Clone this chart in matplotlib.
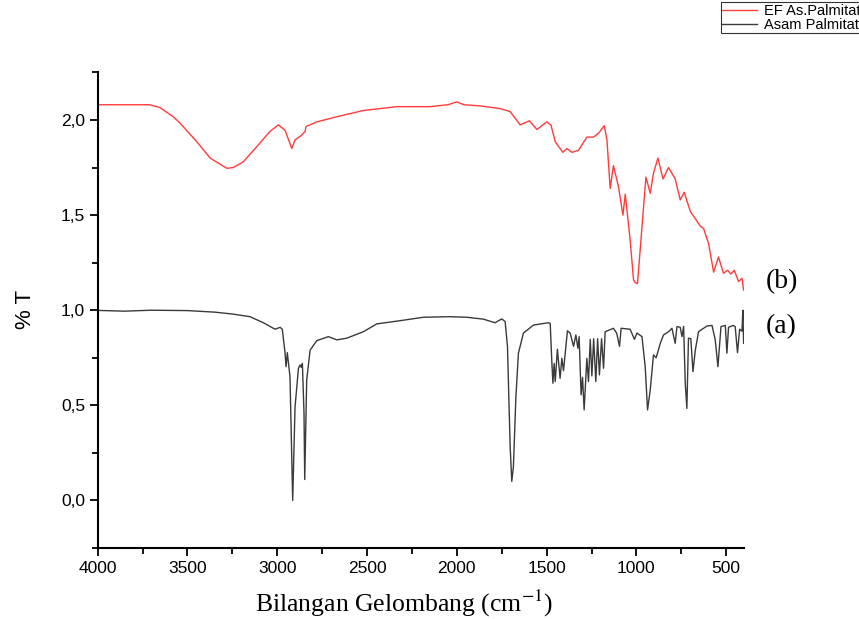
import matplotlib
matplotlib.use('Agg')
import matplotlib.pyplot as plt
from matplotlib.ticker import MultipleLocator, FuncFormatter

OUTPUT_FILE = "out.png"

# EF As.Palmitat (b) - wavenumber (cm-1) and %T
ef_wn = [4000, 3820, 3709, 3653, 3579, 3541, 3448, 3374, 3281, 3245, 3189, 3114,
         3040, 2994, 2957, 2919, 2901, 2864, 2845, 2840, 2780, 2668, 2520, 2334,
         2149, 2050, 2000, 1960, 1870, 1759, 1703, 1647, 1596, 1554, 1499, 1476,
         1452, 1410, 1387, 1359, 1323, 1276, 1239, 1211, 1179, 1164, 1146, 1128,
         1100, 1075, 1062, 1035, 1016, 1007, 994, 979, 947, 923, 905, 880, 852,
         821, 784, 756, 734, 700, 645, 626, 598, 570, 543, 515, 492, 474, 455,
         431, 412, 403]
ef_t = [2.08, 2.08, 2.08, 2.065, 2.017, 1.983, 1.886, 1.80, 1.746, 1.75, 1.78, 1.86,
        1.94, 1.974, 1.947, 1.85, 1.895, 1.92, 1.94, 1.965, 1.99, 2.017, 2.05, 2.07,
        2.07, 2.08, 2.095, 2.08, 2.074, 2.06, 2.044, 1.974, 1.996, 1.95, 1.99, 1.974,
        1.886, 1.83, 1.85, 1.83, 1.84, 1.91, 1.91, 1.93, 1.97, 1.895, 1.64, 1.76,
        1.65, 1.50, 1.61, 1.37, 1.16, 1.145, 1.14, 1.317, 1.70, 1.615, 1.72, 1.80, 1.69,
        1.75, 1.69, 1.58, 1.62, 1.52, 1.443, 1.43, 1.35, 1.20, 1.28, 1.194, 1.21, 1.19, 1.21,
        1.15, 1.168, 1.106]

# Asam Palmitat (a)
ap_wn = [4000, 3850, 3700, 3500, 3350, 3250, 3152, 3077, 3012, 2984, 2972, 2957,
         2951, 2944, 2929, 2914, 2901, 2882, 2873, 2866, 2860, 2851, 2847, 2836,
         2817, 2780, 2715, 2668, 2613, 2520, 2446, 2316, 2186, 2037, 1944, 1852,
         1787, 1768, 1749, 1731, 1718, 1703, 1694, 1685, 1671, 1657, 1629, 1573,
         1490, 1480, 1471, 1465, 1458, 1452, 1440, 1425, 1415, 1406, 1384, 1369,
         1350, 1337, 1326, 1319, 1308, 1300, 1291, 1276, 1267, 1257, 1248, 1238,
         1226, 1216, 1206, 1194, 1183, 1174, 1128, 1110, 1094, 1085, 1035, 1011,
         997, 969, 951, 938, 923, 905, 890, 867, 849, 821, 802, 784, 774, 756,
         746, 737, 728, 719, 710, 697, 685, 672, 654, 607, 579, 561, 546, 529,
         505, 496, 487, 461, 450, 437, 425, 412, 407, 403]
ap_t = [0.999, 0.995, 1.0, 0.998, 0.99, 0.98, 0.966, 0.934, 0.90, 0.91, 0.90, 0.78,
        0.703, 0.777, 0.65, 0.0, 0.49, 0.695, 0.712, 0.70, 0.72, 0.458, 0.11, 0.633,
        0.79, 0.84, 0.861, 0.844, 0.853, 0.887, 0.928, 0.945, 0.963, 0.966, 0.963, 0.953,
        0.934, 0.945, 0.954, 0.94, 0.81, 0.283, 0.10, 0.177, 0.545, 0.774, 0.88, 0.922,
        0.934, 0.93, 0.73, 0.616, 0.72, 0.625, 0.795, 0.642, 0.747, 0.682, 0.892, 0.88,
        0.81, 0.87, 0.80, 0.861, 0.555, 0.647, 0.476, 0.747, 0.625, 0.847, 0.655, 0.85,
        0.625, 0.85, 0.66, 0.85, 0.695, 0.887, 0.905, 0.88, 0.81, 0.905, 0.90, 0.847,
        0.88, 0.861, 0.703, 0.476, 0.58, 0.765, 0.75, 0.826, 0.87, 0.887, 0.905, 0.826,
        0.914, 0.91, 0.861, 0.915, 0.616, 0.484, 0.853, 0.85, 0.677, 0.79, 0.887, 0.917,
        0.92, 0.844, 0.703, 0.914, 0.92, 0.774, 0.91, 0.92, 0.914, 0.777, 0.90, 0.89,
        1.0, 0.826]

X_TICKS = [4000, 3500, 3000, 2500, 2000, 1500, 1000, 500]


def main():
    fig = plt.figure(figsize=(8.59, 6.19), dpi=100)
    ax = fig.add_axes([0.1137, 0.1147, 0.7526, 0.7683])

    l1, = ax.plot(ef_wn, ef_t, color="#ff3b3b", linewidth=1.0, label="EF As.Palmitat")
    l2, = ax.plot(ap_wn, ap_t, color="#3a3a3a", linewidth=1.0, label="Asam Palmitat")

    ax.set_xlim(4000, 400)
    ax.set_ylim(-0.25, 2.25)
    ax.set_xticks(X_TICKS)
    ax.xaxis.set_minor_locator(MultipleLocator(250))
    ax.yaxis.set_major_locator(MultipleLocator(0.5))
    ax.yaxis.set_minor_locator(MultipleLocator(0.25))
    ax.yaxis.set_major_formatter(FuncFormatter(lambda v, p: f"{v:.1f}".replace(".", ",")))

    for s in ["top", "right"]:
        ax.spines[s].set_visible(False)
    for s in ["left", "bottom"]:
        ax.spines[s].set_linewidth(1.5)
    ax.tick_params(which="major", direction="out", length=6, width=1.3,
                   labelsize=12.5, pad=3)
    ax.tick_params(which="minor", direction="out", length=4, width=1.3)
    for lab in ax.get_xticklabels() + ax.get_yticklabels():
        lab.set_family("Liberation Sans")

    fig.text(0.470, 0.025, "Bilangan Gelombang (cm$^{-1}$)", ha="center", va="center",
             fontsize=18.5, family="Liberation Serif", math_fontfamily="stix")
    fig.text(0.030, 0.500, "% T", ha="center", va="center", rotation=90,
             fontsize=16, family="Liberation Sans")

    fig.text(0.891, 0.545, "(b)", ha="left", va="center", fontsize=20,
             family="Liberation Serif")
    fig.text(0.891, 0.472, "(a)", ha="left", va="center", fontsize=20,
             family="Liberation Serif")

    leg = fig.legend(handles=[l1, l2], loc="upper right", bbox_to_anchor=(1.003, 0.996),
                     frameon=True, fancybox=False, borderpad=0.1,
                     labelspacing=0.0, handlelength=2.4, handletextpad=0.45,
                     borderaxespad=0.0, prop={"family": "Liberation Sans", "size": 10.5})
    leg.get_frame().set_edgecolor("black")
    leg.get_frame().set_linewidth(0.8)

    fig.savefig(OUTPUT_FILE, dpi=100)
    plt.close(fig)


if __name__ == "__main__":
    main()
